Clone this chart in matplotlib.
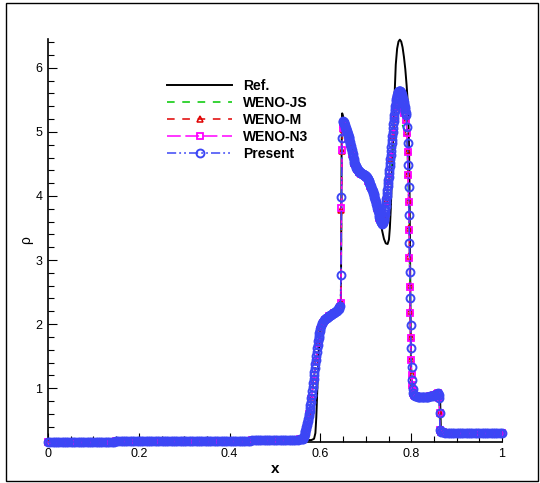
import matplotlib
matplotlib.use("Agg")
import matplotlib.pyplot as plt
from matplotlib.patches import Rectangle
from matplotlib.ticker import MultipleLocator

plt.rcParams['font.family'] = ['Liberation Sans', 'DejaVu Sans']

# ---- reference solution ----
x_ref = [0.0, 0.1, 0.2, 0.3, 0.4, 0.5,
         0.58, 0.586, 0.589, 0.591, 0.593, 0.595, 0.597, 0.599, 0.601, 0.604,
         0.61, 0.62, 0.63, 0.64, 0.645,
         0.6458, 0.6466, 0.6474, 0.648, 0.650,
         0.655, 0.660, 0.665, 0.670, 0.675, 0.680, 0.685, 0.690, 0.695,
         0.700, 0.705, 0.710, 0.715, 0.720, 0.725, 0.730, 0.735, 0.740,
         0.744, 0.748, 0.751, 0.753, 0.755, 0.758, 0.7605,
         0.763, 0.766, 0.769, 0.772, 0.775, 0.778, 0.781, 0.784, 0.787, 0.790,
         0.7925, 0.7945, 0.7958, 0.7968, 0.7978, 0.7988, 0.7998, 0.801, 0.804,
         0.81, 0.82, 0.83, 0.84, 0.85, 0.86,
         0.8635, 0.8645, 0.8655, 0.867,
         0.88, 0.9, 0.95, 1.0]
rho_ref = [0.16, 0.16, 0.17, 0.17, 0.18, 0.19,
           0.19, 0.21, 0.30, 0.55, 0.95, 1.35, 1.65, 1.86, 1.96, 2.02,
           2.07, 2.12, 2.17, 2.22, 2.25,
           3.2, 4.6, 5.2, 5.29, 5.24,
           5.07, 4.95, 4.84, 4.71, 4.57, 4.46, 4.40, 4.36, 4.33,
           4.30, 4.26, 4.19, 4.09, 3.96, 3.82, 3.66, 3.49, 3.33,
           3.26, 3.25, 3.32, 3.50, 3.80, 4.40, 5.00,
           5.50, 6.05, 6.30, 6.41, 6.44, 6.41, 6.32, 6.17, 5.98, 5.72,
           5.45, 5.0, 4.5, 3.7, 2.8, 1.9, 1.2, 0.92, 0.89,
           0.88, 0.87, 0.87, 0.88, 0.89, 0.90,
           0.90, 0.6, 0.31, 0.30,
           0.30, 0.30, 0.30, 0.30]

# ---- parts where all schemes coincide ----
x_left = [0.000, 0.005, 0.010, 0.015, 0.020, 0.025, 0.030, 0.035, 0.040, 0.045,
          0.050, 0.055, 0.060, 0.065, 0.070, 0.075, 0.080, 0.085, 0.090, 0.095,
          0.100, 0.105, 0.110, 0.115, 0.120, 0.125, 0.130, 0.135, 0.140, 0.145,
          0.150, 0.155, 0.160, 0.165, 0.170, 0.175, 0.180, 0.185, 0.190, 0.195,
          0.200, 0.205, 0.210, 0.215, 0.220, 0.225, 0.230, 0.235, 0.240, 0.245,
          0.250, 0.255, 0.260, 0.265, 0.270, 0.275, 0.280, 0.285, 0.290, 0.295,
          0.300, 0.305, 0.310, 0.315, 0.320, 0.325, 0.330, 0.335, 0.340, 0.345,
          0.350, 0.355, 0.360, 0.365, 0.370, 0.375, 0.380, 0.385, 0.390, 0.395,
          0.400, 0.405, 0.410, 0.415, 0.420, 0.425, 0.430, 0.435, 0.440, 0.445,
          0.450, 0.455, 0.460, 0.465, 0.470, 0.475, 0.480, 0.485, 0.490, 0.495,
          0.500, 0.505, 0.510, 0.515, 0.520, 0.525, 0.530, 0.535, 0.540, 0.545,
          0.550, 0.555]
rho_left = [0.16, 0.16, 0.16, 0.16, 0.16, 0.16, 0.16, 0.16, 0.16, 0.16,
            0.16, 0.16, 0.16, 0.16, 0.16, 0.16, 0.16, 0.16, 0.16, 0.16,
            0.16, 0.16, 0.16, 0.16, 0.16, 0.16, 0.16, 0.16, 0.16, 0.16,
            0.17, 0.17, 0.17, 0.17, 0.17, 0.17, 0.17, 0.17, 0.17, 0.17,
            0.17, 0.17, 0.17, 0.17, 0.17, 0.17, 0.17, 0.17, 0.17, 0.17,
            0.17, 0.17, 0.17, 0.17, 0.17, 0.17, 0.17, 0.17, 0.17, 0.17,
            0.18, 0.18, 0.18, 0.18, 0.18, 0.18, 0.18, 0.18, 0.18, 0.18,
            0.18, 0.18, 0.18, 0.18, 0.18, 0.18, 0.18, 0.18, 0.18, 0.18,
            0.18, 0.18, 0.18, 0.18, 0.18, 0.18, 0.18, 0.18, 0.18, 0.18,
            0.19, 0.19, 0.19, 0.19, 0.19, 0.19, 0.19, 0.19, 0.19, 0.19,
            0.19, 0.19, 0.19, 0.19, 0.19, 0.19, 0.19, 0.19, 0.19, 0.19,
            0.19, 0.20]

x_plateau = [0.808, 0.811, 0.814, 0.817, 0.820, 0.823, 0.826, 0.829, 0.832, 0.835,
             0.838, 0.841, 0.844, 0.847, 0.850, 0.853, 0.856, 0.8575, 0.8590, 0.8605,
             0.8615, 0.8625, 0.8635, 0.8650]
rho_plateau = [0.88, 0.88, 0.87, 0.87, 0.87, 0.87, 0.87, 0.87, 0.87, 0.87,
               0.87, 0.88, 0.88, 0.88, 0.89, 0.90, 0.91, 0.91, 0.92, 0.90,
               0.84, 0.61, 0.35, 0.31]

x_right = [0.870, 0.875, 0.880, 0.885, 0.890, 0.895, 0.900, 0.905, 0.910, 0.915,
           0.920, 0.925, 0.930, 0.935, 0.940, 0.945, 0.950, 0.955, 0.960, 0.965,
           0.970, 0.975, 0.980, 0.985, 0.990, 0.995, 1.000]
rho_right = [0.31, 0.30, 0.30, 0.30, 0.30, 0.30, 0.30, 0.30, 0.30, 0.30,
             0.30, 0.30, 0.30, 0.30, 0.30, 0.30, 0.30, 0.30, 0.30, 0.30,
             0.30, 0.30, 0.30, 0.30, 0.30, 0.30, 0.30]

# ---- present scheme, middle part ----
x_mid_present = [
    # rise
    0.560, 0.561, 0.562, 0.563, 0.564, 0.565, 0.566, 0.567, 0.568, 0.569,
    0.570, 0.571, 0.572, 0.573, 0.574, 0.575, 0.576, 0.577, 0.578, 0.579,
    0.580, 0.581, 0.582, 0.583, 0.584, 0.585, 0.586, 0.587, 0.588, 0.589,
    0.590, 0.591, 0.592, 0.593, 0.594, 0.595, 0.596, 0.597, 0.598, 0.599,
    0.600, 0.602, 0.604, 0.606, 0.608, 0.610, 0.612, 0.614, 0.616, 0.618,
    0.620, 0.622, 0.624, 0.626, 0.628, 0.630, 0.632, 0.634, 0.636, 0.638,
    0.640, 0.642,
    # left front
    0.6440, 0.6452, 0.6464, 0.6476, 0.6488, 0.6500,
    # decline
    0.651, 0.652, 0.653, 0.654, 0.655, 0.656, 0.657, 0.658, 0.659, 0.660,
    0.661, 0.662, 0.663, 0.664, 0.665, 0.666, 0.667, 0.668, 0.669, 0.670,
    0.671, 0.672, 0.673, 0.674, 0.675, 0.676, 0.677, 0.678, 0.679, 0.680,
    0.681, 0.682, 0.683, 0.684, 0.685, 0.686, 0.687, 0.688, 0.689, 0.690,
    0.691, 0.692, 0.693, 0.694, 0.695, 0.696, 0.697, 0.698, 0.699, 0.700,
    0.701, 0.702, 0.703, 0.704, 0.705, 0.706, 0.707, 0.708, 0.709, 0.710,
    0.711, 0.712, 0.713, 0.714, 0.715, 0.716, 0.717, 0.718, 0.719, 0.720,
    0.721, 0.722, 0.723, 0.724, 0.725, 0.726, 0.727, 0.728, 0.729, 0.730,
    0.731, 0.732, 0.733, 0.734, 0.735, 0.736,
    # ascending to the peak
    0.73750, 0.73825, 0.73900, 0.73975, 0.74050, 0.74125, 0.74200, 0.74275,
    0.74350, 0.74425, 0.74500, 0.74575, 0.74650, 0.74725, 0.74800, 0.74875,
    0.74950, 0.75025, 0.75100, 0.75175, 0.75250, 0.75325, 0.75400, 0.75475,
    0.75550, 0.75625, 0.75700, 0.75775, 0.75850, 0.75925, 0.76000, 0.76075,
    0.76150, 0.76225, 0.76300, 0.76375, 0.76450, 0.76525, 0.76600, 0.76675,
    0.76750, 0.76825, 0.76900, 0.76975, 0.77050, 0.77125, 0.77200, 0.77275,
    0.77350, 0.77425, 0.77500, 0.77575, 0.77650, 0.77725, 0.77800, 0.77875,
    0.77950, 0.78025, 0.78100, 0.78175, 0.78250, 0.78325, 0.78400, 0.78475,
    0.78550, 0.78625, 0.78700, 0.78775, 0.78850,
    # right front
    0.7910, 0.7920, 0.7932, 0.7944, 0.7954, 0.7962, 0.7970, 0.7978, 0.7987, 0.7996,
    0.8007, 0.8018, 0.8030, 0.8042, 0.8055]
rho_mid_present = [
    0.20, 0.21, 0.22, 0.24, 0.26, 0.28, 0.31, 0.33, 0.36, 0.39,
    0.42, 0.45, 0.48, 0.52, 0.56, 0.60, 0.64, 0.69, 0.74, 0.79,
    0.85, 0.90, 0.96, 1.02, 1.08, 1.14, 1.20, 1.26, 1.32, 1.38,
    1.44, 1.50, 1.56, 1.62, 1.68, 1.73, 1.78, 1.82, 1.86, 1.89,
    1.92, 1.97, 2.01, 2.04, 2.06, 2.08, 2.09, 2.10, 2.11, 2.12,
    2.13, 2.14, 2.15, 2.16, 2.17, 2.18, 2.19, 2.20, 2.21, 2.23,
    2.24, 2.26,
    2.29, 2.76, 3.99, 4.91, 5.15, 5.17,
    5.16, 5.14, 5.12, 5.10, 5.08, 5.06, 5.04, 5.02, 5.00, 4.97,
    4.95, 4.92, 4.90, 4.87, 4.84, 4.81, 4.78, 4.75, 4.72, 4.68,
    4.65, 4.61, 4.58, 4.55, 4.52, 4.50, 4.48, 4.46, 4.44, 4.43,
    4.42, 4.41, 4.40, 4.39, 4.38, 4.38, 4.37, 4.37, 4.36, 4.36,
    4.35, 4.35, 4.34, 4.34, 4.33, 4.33, 4.32, 4.32, 4.31, 4.31,
    4.30, 4.29, 4.28, 4.27, 4.26, 4.24, 4.23, 4.21, 4.19, 4.17,
    4.15, 4.13, 4.11, 4.09, 4.07, 4.05, 4.03, 4.01, 3.99, 3.96,
    3.94, 3.91, 3.88, 3.85, 3.82, 3.79, 3.76, 3.73, 3.70, 3.67,
    3.64, 3.62, 3.60, 3.59, 3.58, 3.57,
    3.58, 3.60, 3.62, 3.65, 3.68, 3.72, 3.76, 3.80,
    3.85, 3.90, 3.95, 4.00, 4.05, 4.10, 4.15, 4.20,
    4.25, 4.30, 4.36, 4.41, 4.47, 4.52, 4.58, 4.64,
    4.70, 4.76, 4.82, 4.88, 4.94, 5.00, 5.06, 5.12,
    5.17, 5.22, 5.27, 5.32, 5.36, 5.40, 5.44, 5.48,
    5.51, 5.54, 5.56, 5.58, 5.60, 5.62, 5.63, 5.64,
    5.64, 5.64, 5.64, 5.63, 5.62, 5.61, 5.59, 5.58,
    5.56, 5.54, 5.52, 5.50, 5.48, 5.46, 5.44, 5.42,
    5.39, 5.36, 5.33, 5.30, 5.27,
    5.08, 4.83, 4.48, 4.14, 3.70, 3.26, 2.82, 2.40, 1.98, 1.62,
    1.33, 1.12, 0.99, 0.93, 0.90]

# ---- WENO-JS / WENO-M / WENO-N3, middle part ----
x_mid_weno = [
    0.560, 0.565, 0.570, 0.575, 0.580, 0.585, 0.590, 0.595, 0.600, 0.605,
    0.610, 0.620, 0.630, 0.640, 0.6440, 0.6452, 0.6464, 0.6476, 0.6488, 0.6500,
    0.652, 0.656, 0.660, 0.665, 0.670, 0.675, 0.680, 0.685, 0.690, 0.695,
    0.700, 0.705, 0.710, 0.715, 0.720, 0.725, 0.730, 0.735, 0.740, 0.745,
    0.750, 0.755, 0.760, 0.765, 0.770, 0.7735, 0.777, 0.781, 0.785, 0.7885,
    0.7910, 0.7920, 0.7932, 0.7944, 0.7954, 0.7962, 0.7970, 0.7978, 0.7987, 0.7996,
    0.8007, 0.8018, 0.8030, 0.8042, 0.8055]
rho_mid_n3 = [
    0.20, 0.28, 0.41, 0.59, 0.83, 1.12, 1.42, 1.71, 1.91, 2.02,
    2.07, 2.13, 2.18, 2.23, 2.27, 2.33, 3.81, 4.72, 5.06, 5.12,
    5.10, 5.01, 4.92, 4.81, 4.66, 4.52, 4.42, 4.38, 4.35, 4.33,
    4.30, 4.24, 4.16, 4.06, 3.95, 3.81, 3.66, 3.58, 3.66, 3.92,
    4.26, 4.61, 4.97, 5.24, 5.39, 5.44, 5.43, 5.37, 5.29, 5.18,
    4.98, 4.68, 4.32, 3.91, 3.47, 3.03, 2.58, 2.17, 1.78, 1.44,
    1.20, 1.05, 0.96, 0.92, 0.90]
rho_mid_m = [
    0.20, 0.28, 0.41, 0.59, 0.83, 1.12, 1.42, 1.71, 1.91, 2.02,
    2.07, 2.13, 2.18, 2.23, 2.27, 2.35, 3.78, 4.70, 5.05, 5.11,
    5.09, 5.00, 4.91, 4.80, 4.66, 4.52, 4.42, 4.38, 4.35, 4.33,
    4.30, 4.24, 4.16, 4.06, 3.95, 3.81, 3.67, 3.59, 3.66, 3.90,
    4.24, 4.58, 4.94, 5.22, 5.40, 5.46, 5.45, 5.39, 5.30, 5.19,
    5.00, 4.70, 4.35, 3.94, 3.50, 3.06, 2.61, 2.20, 1.80, 1.46,
    1.22, 1.06, 0.97, 0.92, 0.90]
rho_mid_js = [
    0.20, 0.28, 0.40, 0.58, 0.82, 1.10, 1.40, 1.69, 1.90, 2.01,
    2.06, 2.12, 2.17, 2.22, 2.26, 2.36, 3.70, 4.62, 5.00, 5.07,
    5.06, 4.99, 4.90, 4.79, 4.65, 4.52, 4.42, 4.38, 4.35, 4.33,
    4.30, 4.24, 4.17, 4.07, 3.96, 3.83, 3.70, 3.63, 3.68, 3.86,
    4.14, 4.44, 4.73, 4.94, 5.05, 5.10, 5.12, 5.10, 5.04, 4.95,
    4.80, 4.55, 4.24, 3.88, 3.48, 3.06, 2.64, 2.24, 1.86, 1.52,
    1.27, 1.10, 0.99, 0.93, 0.90]


def full(x_mid, rho_mid):
    """Join the common pieces with the scheme's own middle part."""
    x = x_left + x_mid + x_plateau + x_right
    r = rho_left + rho_mid + rho_plateau + rho_right
    return x, r


fig = plt.figure(figsize=(5.4, 4.83), dpi=100)
ax = fig.add_axes([48 / 540, 41 / 483, 454 / 540, 403 / 483])

ax.plot(x_ref, rho_ref, color='black', lw=1.4, label='Ref.', zorder=3, clip_on=False)

x, r = full(x_mid_weno, rho_mid_js)
ax.plot(x, r, color='#00c800', lw=1.1, ls=(0, (5, 5)), label='WENO-JS',
        zorder=4, clip_on=False)

x, r = full(x_mid_weno, rho_mid_m)
ax.plot(x, r, color='#e00000', lw=1.1, ls=(0, (5, 5)), marker='^', ms=4.8,
        mfc='none', mec='#e00000', mew=1.1, label='WENO-M', zorder=5, clip_on=False)

x, r = full(x_mid_weno, rho_mid_n3)
ax.plot(x, r, color='#ff00ff', lw=1.1, ls=(0, (9, 3)), marker='s', ms=4.0,
        mfc='none', mec='#ff00ff', mew=1.3, label='WENO-N3', zorder=6, clip_on=False)

x, r = full(x_mid_present, rho_mid_present)
ax.plot(x, r, color='#3c46f5', lw=1.1, ls=(0, (6, 2, 1.2, 2, 1.2, 2)), marker='o',
        ms=5.7, mfc='none', mec='#3c46f5', mew=1.4, label='Present', zorder=7,
        clip_on=False)

ax.set_xlim(0, 1)
ax.set_ylim(0.16, 6.45)
ax.xaxis.set_major_locator(MultipleLocator(0.2))
ax.xaxis.set_minor_locator(MultipleLocator(0.05))
ax.yaxis.set_major_locator(MultipleLocator(1))
ax.yaxis.set_minor_locator(MultipleLocator(0.2))
ax.set_xticks([0, 0.2, 0.4, 0.6, 0.8, 1.0])
ax.set_xticklabels(['0', '0.2', '0.4', '0.6', '0.8', '1'])

for side in ['top', 'right']:
    ax.spines[side].set_visible(False)
for side in ['left', 'bottom']:
    ax.spines[side].set_linewidth(1.2)
ax.tick_params(which='major', direction='in', length=6.5, width=0.8, labelsize=9,
               pad=4)
ax.tick_params(which='minor', direction='in', length=4, width=0.8)

ax.set_xlabel('x', fontsize=11, fontweight='bold', labelpad=2)
ax.set_ylabel('ρ', fontsize=10, labelpad=2)

ax.legend(loc='upper left', bbox_to_anchor=(167 / 540, 1 - 79 / 483),
          bbox_transform=fig.transFigure, frameon=False, numpoints=1,
          handlelength=4.7, handletextpad=0.8, labelspacing=0.21, borderpad=0,
          borderaxespad=0, prop={'weight': 'bold', 'size': 10})

fig.patches.append(Rectangle((6 / 540, 2 / 483), 532 / 540, 478 / 483,
                             transform=fig.transFigure, fill=False,
                             edgecolor='black', lw=1.0))

fig.savefig('out.png', dpi=100)
